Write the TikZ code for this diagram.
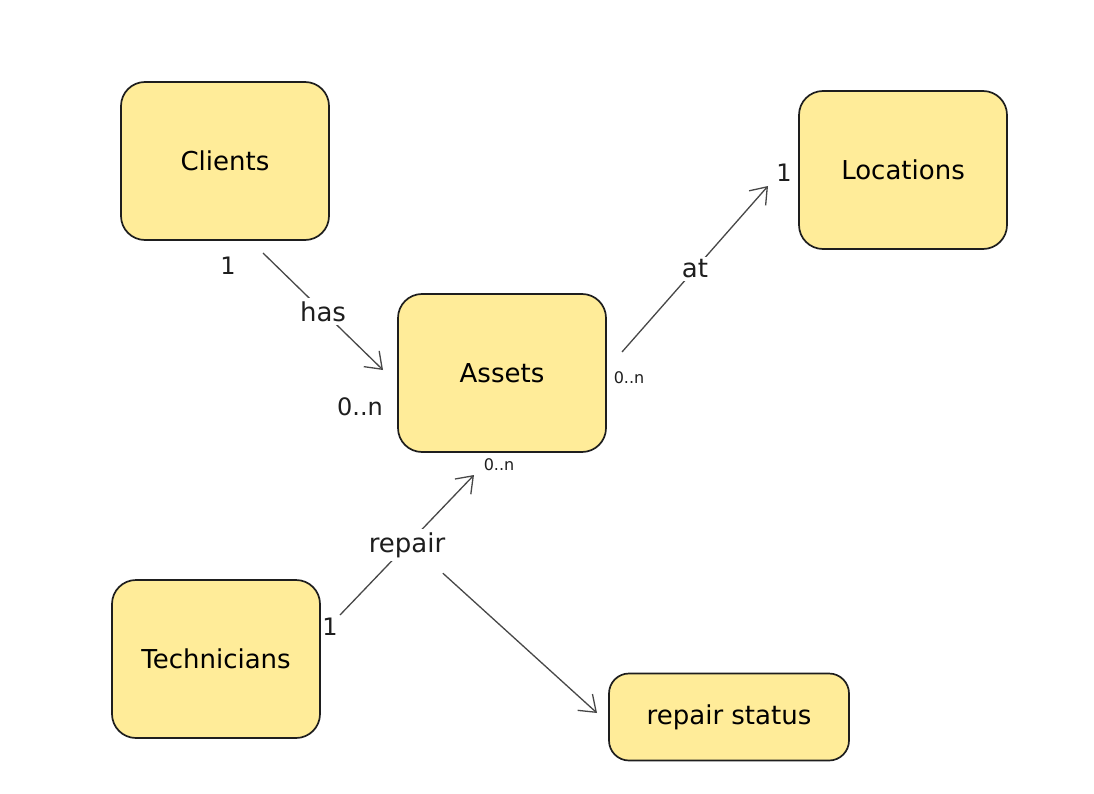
\documentclass[tikz,border=0pt]{standalone}
\usepackage{fontspec}
\setmainfont{DejaVu Sans}
\usetikzlibrary{arrows.meta}
\definecolor{boxfill}{HTML}{FFEC99}
\definecolor{ink}{HTML}{1E1E1E}
\definecolor{wire}{HTML}{474747}
\begin{document}
\begin{tikzpicture}[x=1pt, y=-1pt,
  entity/.style={draw=ink, fill=boxfill, line width=1.7pt, rounded corners=24pt, minimum width=208pt, minimum height=158pt, font=\fontsize{26}{31}\selectfont},
  rel/.style={draw=wire, line width=1.3pt, -{Straight Barb[length=15pt,width=22pt]}},
  lbl/.style={fill=white, inner sep=3pt, text=ink, font=\fontsize{26}{31}\selectfont},
  mult/.style={inner sep=0pt, text=ink, font=\fontsize{24}{28}\selectfont},
  smallmult/.style={inner sep=0pt, text=ink, font=\fontsize{16}{19}\selectfont}]
  \fill[white] (0,0) rectangle (1094,794);
  \useasboundingbox (0,0) rectangle (1094,794);
  \node[entity] (clients) at (225,161) {Clients};
  \node[entity] (locations) at (903,170) {Locations};
  \node[entity] (assets) at (502,373) {Assets};
  \node[entity] (technicians) at (216,659) {Technicians};
  \node[entity, minimum width=240pt, minimum height=87pt, rounded corners=20pt] (status) at (729,717) {repair status};
  \coordinate (hasS) at (263,253);
  \coordinate (hasE) at (383,370);
  \coordinate (atS) at (622,352);
  \coordinate (atE) at (768,186);
  \coordinate (repS) at (340,615);
  \coordinate (repE) at (474,475);
  \coordinate (stE) at (597,713);
  \draw[rel] (hasS) -- node[lbl] (haslbl) {has} (hasE);
  \draw[rel] (atS) -- node[lbl] (atlbl) {at} (atE);
  \draw[rel] (repS) -- node[lbl] (repairlbl) {repair} (repE);
  \draw[rel] ([shift={(-6,12)}]repairlbl.south east) -- (stE);
  \node[mult] (m1) at (228,266) {1};
  \node[mult] (m2) at (360,407) {0..n};
  \node[mult] (m3) at (784,173) {1};
  \node[smallmult] (m4) at (629,378) {0..n};
  \node[smallmult] (m5) at (499,465) {0..n};
  \node[mult] (m6) at (330,627) {1};
\end{tikzpicture}
\end{document}
